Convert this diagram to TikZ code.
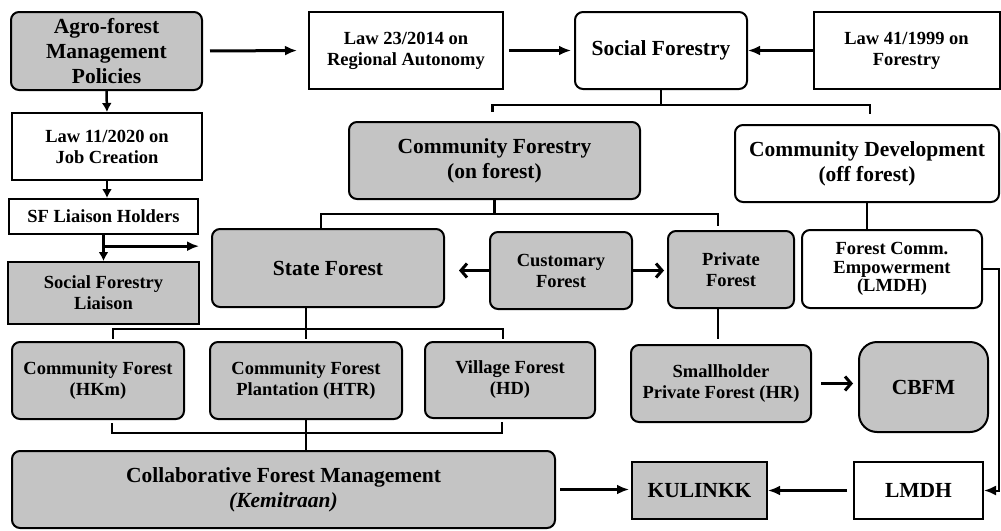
\documentclass[tikz,border=0pt]{standalone}
\usepackage{fontspec}
\setmainfont{Liberation Serif}
\usepackage{tikz}
\usetikzlibrary{arrows.meta,calc}
\definecolor{boxgray}{RGB}{196,196,196}
\def\bigtx{\fontsize{21.5}{25}\selectfont\bfseries}
\def\smtx{\fontsize{18.5}{21}\selectfont\bfseries}

\begin{document}
\begin{tikzpicture}[x=1pt,y=-1pt,
    box/.style={draw, line width=2pt, rounded corners=8pt, align=center, inner sep=0pt, fill=white},
    grey/.style={fill=boxgray},
    big/.style={font=\bigtx},
    sm/.style={font=\smtx},
    conn/.style={line width=2.5pt},
    arr/.style={line width=3pt, -{Latex[length=12pt,width=10pt]}},
    varr/.style={line width=2.5pt, -{Latex[length=9pt,width=10pt]}},
    barb/.style={line width=3pt, -{Straight Barb[length=6pt,width=14pt]}}]
        \useasboundingbox (0,0) rectangle (1001,530);
        % top row
        \node[box, grey, big, minimum width=191, minimum height=78] (agro) at (106.5,51) {Agro-forest\\Management\\Policies};
        \node[box, sm, sharp corners, minimum width=194, minimum height=77] (law23) at (406,50.5) {Law 23/2014 on\\Regional Autonomy};
        \node[box, big, minimum width=172, minimum height=77] (socfor) at (661,50.5) {Social Forestry};
        \node[box, sm, sharp corners, minimum width=186, minimum height=77] (law41) at (906.5,50.5) {Law 41/1999 on\\Forestry};
        % left column
        \node[box, sm, sharp corners, minimum width=190, minimum height=67] (law11) at (107,146.5) {Law 11/2020 on\\Job Creation};
        \node[box, sm, sharp corners, minimum width=189, minimum height=35] (sflh) at (103.5,216.5) {SF Liaison Holders};
        \node[box, grey, sm, sharp corners, minimum width=191, minimum height=62] (sfl) at (103.5,293) {Social Forestry\\Liaison};
        % forestry types
        \node[box, grey, big, minimum width=291, minimum height=77] (comfor) at (494.5,160.5) {Community Forestry\\(on forest)};
        \node[box, big, minimum width=264, minimum height=77] (comdev) at (867,163.5) {Community Development\\(off forest)};
        \node[box, grey, big, minimum width=232, minimum height=78] (state) at (328,268) {State Forest};
        \node[box, grey, sm, minimum width=142, minimum height=77] (cust) at (561,270.5) {Customary\\Forest};
        \node[box, grey, sm, minimum width=126, minimum height=77] (priv) at (731,269.5) {Private\\Forest};
        \node[box, minimum width=180, minimum height=78, font=\fontsize{18.5}{18.5}\selectfont\bfseries] (femp) at (892,269) {Forest Comm.\\Empowerment\\(LMDH)};
        % schemes
        \node[box, grey, sm, minimum width=172, minimum height=77] (hkm) at (98,380.5) {Community Forest\\(HKm)};
        \node[box, grey, sm, minimum width=192, minimum height=77] (htr) at (306,380.5) {Community Forest\\Plantation (HTR)};
        \node[box, grey, sm, minimum width=170, minimum height=76] (vf) at (510,380) {Village Forest\\(HD)};
        \node[box, grey, sm, minimum width=180, minimum height=77] (small) at (721,383.5) {Smallholder\\Private Forest (HR)};
        \node[box, grey, big, rounded corners=18pt, minimum width=129, minimum height=90] (cbfm) at (923.5,387) {CBFM};
        % bottom row
        \node[box, grey, big, minimum width=543, minimum height=77] (collab) at (283.5,489.5) {Collaborative Forest Management\\\itshape(Kemitraan)};
        \node[box, grey, big, sharp corners, minimum width=135, minimum height=57] (kul) at (699.5,490.5) {KULINKK};
        \node[box, big, sharp corners, minimum width=129, minimum height=57] (lmdh) at (918.5,490.5) {LMDH};

        % policy arrows
        \draw[arr, shorten <=7pt, shorten >=11pt] (agro.east) -- (law23.west);
        \draw[arr, shorten <=5pt, shorten >=3pt] (law23.east) -- (socfor.west);
        \draw[arr] (law41.west) -- (socfor.east);
        \draw[varr] (agro.south) -- (law11.north);
        \draw[varr] (law11.south) -- (law11.south |- sflh.north);
        \draw[varr] (sflh.south) -- (sflh.south |- sfl.north);
        \coordinate (lb) at ($(sflh.south)!0.43!(sfl.north)$);
        \draw[arr, shorten >=12pt] (lb) -- (lb -| state.west);

        % social forestry split
        \draw[conn] (socfor.south) -- ++(0,15) coordinate (sfj);
        \draw[conn, shorten >=9pt] (sfj) -| ([xshift=-2]comfor.north);
        \draw[conn, shorten >=10pt] (sfj) -| ([xshift=3]comdev.north);
        \draw[conn] (comdev.south) -- (comdev.south |- femp.north);

        % community forestry split
        \draw[conn] (comfor.south) -- ++(0,14) coordinate (cfj);
        \draw[conn] (cfj) -| ([xshift=-7]state.north);
        \draw[conn, shorten >=4pt] (cfj) -| ([xshift=-13]priv.north);
        \draw[barb, shorten >=14pt] (cust.west) -- (cust.west -| state.east);
        \draw[barb, shorten >=3pt] (cust.east) -- (cust.east -| priv.west);
        \draw[conn, shorten >=5pt] ([xshift=-13]priv.south) -- ([xshift=-13]priv.south |- small.north);
        \draw[barb, shorten <=9pt, shorten >=5pt] (small.east) -- (small.east -| cbfm.west);

        % state forest schemes
        \draw[conn] (state.south -| htr.north) -- ++(0,21) coordinate (sj);
        \draw[conn, shorten >=2pt] (sj) -- (htr.north);
        \draw[conn, shorten >=2pt] (sj) -| ([xshift=15]hkm.north);
        \draw[conn, shorten >=2pt] (sj) -| ([xshift=-7]vf.north);
        \path (htr.south) ++(0,13) coordinate (bj);
        \draw[conn, shorten <=3pt, shorten >=3pt] ([xshift=14]hkm.south) |- (bj) -| ([xshift=-8]vf.south);
        \draw[conn] (htr.south) -- (htr.south |- collab.north);

        % bottom flow
        \draw[arr, shorten <=4pt, shorten >=2pt] (collab.east) -- (collab.east -| kul.west);
        \draw[arr, shorten <=6pt] (lmdh.west) -- (kul.east);
        \draw[arr, line width=2pt] (femp.east) -- ++(16,0) |- (lmdh.east);
\end{tikzpicture}
\end{document}
